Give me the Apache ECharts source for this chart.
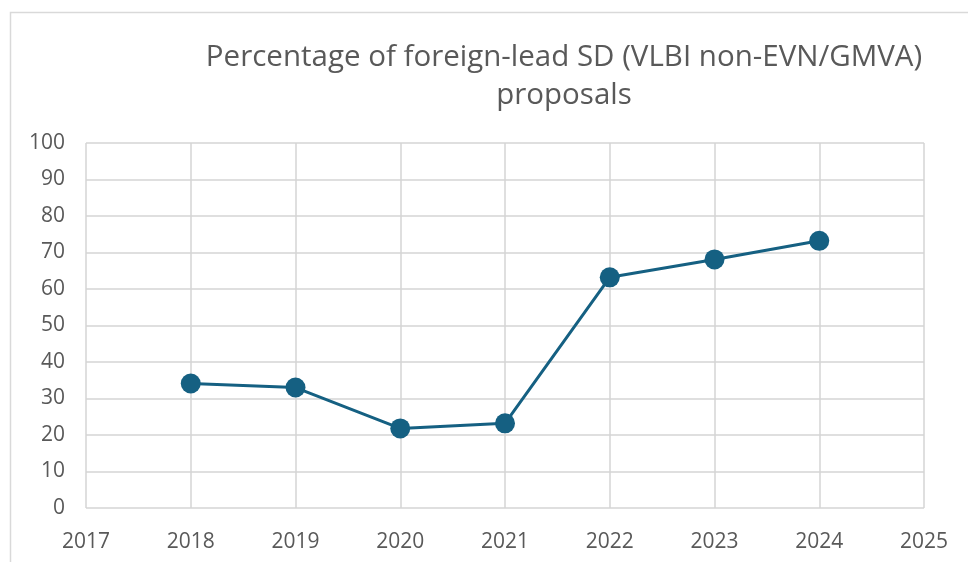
<!DOCTYPE html>
<html>
<head>
<meta charset="utf-8">
<script src="https://cdn.jsdelivr.net/npm/echarts@6/dist/echarts.min.js"></script>
<style>
  html, body { margin: 0; padding: 0; background: #ffffff; }
  #main { width: 968px; height: 562px; }
</style>
</head>
<body>
<div id="main"></div>
<script>
// data
let years = [2018, 2019, 2020, 2021, 2022, 2023, 2024];
let percentages = [34.1, 33.0, 21.8, 23.2, 63.2, 68.1, 73.2];
let titleText = 'Percentage of foreign-lead SD (VLBI non-EVN/GMVA)\nproposals';

function main_chart(){
    let myChart = echarts.init(document.getElementById('main'));
    let seriesData = [];
    for(let i = 0; i < years.length; i++){
        seriesData.push([years[i], percentages[i]]);
    }

    let option = {
        animation: false,
        backgroundColor: '#ffffff',
        title: {
            text: titleText,
            left: 559,
            top: 34,
            textAlign: 'center',
            textStyle: {
                color: '#595959',
                fontFamily: 'Open Sans',
                fontSize: 29.5,
                fontWeight: 'normal',
                lineHeight: 38
            }
        },
        graphic: [{
            type: 'rect',
            shape: { x: 10.5, y: 12.5, width: 970, height: 560 },
            style: { fill: 'none', stroke: '#d9d9d9', lineWidth: 1.5 },
            silent: true
        }],
        grid: {
            left: 86,
            right: 968 - 924,
            top: 143,
            bottom: 562 - 508
        },
        xAxis: {
            type: 'value',
            min: 2017,
            max: 2025,
            interval: 1,
            axisLine: { show: false },
            axisTick: { show: false },
            axisLabel: {
                color: '#595959',
                fontFamily: 'Open Sans',
                fontSize: 21,
                margin: 24,
                formatter: function(v){ return String(v); }
            },
            splitLine: { show: true, lineStyle: { color: '#d4d4d4', width: 1.5 } }
        },
        yAxis: {
            type: 'value',
            min: 0,
            max: 100,
            interval: 10,
            axisLine: { show: false },
            axisTick: { show: false },
            axisLabel: {
                color: '#595959',
                fontFamily: 'Open Sans',
                fontSize: 21,
                margin: 21
            },
            splitLine: { show: true, lineStyle: { color: '#d4d4d4', width: 1.5 } }
        },
        series: [{
            type: 'line',
            data: seriesData,
            symbol: 'circle',
            symbolSize: 20,
            lineStyle: { color: '#156082', width: 3 },
            itemStyle: { color: '#156082' }
        }]
    };
    myChart.setOption(option);
}

main_chart();
</script>
</body>
</html>
